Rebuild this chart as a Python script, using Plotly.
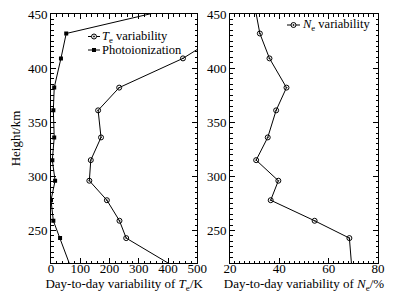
import plotly.graph_objects as go

# Heights (km), bottom to top; end points lie just outside the plotted range
height = [215, 243, 259, 278, 296, 315, 336, 361, 382, 409, 432, 454]
te_var = [431, 257, 234, 191, 131, 136, 171, 161, 233, 451, 587, 650]
photo = [69, 31, 8, 0, 14, 4.5, 11, 8, 11, 34, 52, 400]
ne_var = [69.4, 68.4, 54.3, 36.5, 39.6, 30.6, 35.3, 38.7, 42.9, 36.0, 32.1, 30.3]

te_name = "<i>T</i><sub>e</sub> variability"
photo_name = "Photoionization"
ne_name = "<i>N</i><sub>e</sub> variability"

FONT = "Liberation Serif"
OFF = 8  # page body margin offset
W, H = 393 - OFF, 304 - OFF
ML, MR, MT, MB = 51 - OFF, 15, 14 - OFF, 304 - 263
PW, PH = W - ML - MR, H - MT - MB


def px(xp):
    return (xp - OFF - ML) / PW


def py(yp):
    return 1 - (yp - OFF - MT) / PH


fig = go.Figure()
fig.add_trace(go.Scatter(
    x=te_var, y=height, mode="lines+markers", name=te_name,
    line=dict(color="black", width=1),
    marker=dict(symbol="circle-open-dot", size=5, color="black", line=dict(width=1)),
    xaxis="x", yaxis="y"))
fig.add_trace(go.Scatter(
    x=photo, y=height, mode="lines+markers", name=photo_name,
    line=dict(color="black", width=1),
    marker=dict(symbol="square", size=4, color="black"),
    xaxis="x", yaxis="y"))
fig.add_trace(go.Scatter(
    x=ne_var, y=height, mode="lines+markers", name=ne_name,
    line=dict(color="black", width=1),
    marker=dict(symbol="circle-open-dot", size=5, color="black", line=dict(width=1)),
    xaxis="x2", yaxis="y2"))

axis_common = dict(showline=True, linecolor="black", linewidth=1, mirror="ticks",
                   ticks="inside", ticklen=5, tickcolor="black", showgrid=False,
                   zeroline=False, automargin=False, ticklabeloverflow="allow",
                   tickfont=dict(family=FONT, size=13, color="black"))
minor_common = dict(ticks="inside", ticklen=2.5, tickcolor="black", showgrid=False)

# manual compact legends (sample line + marker + label)
shapes = []
annotations = []


def legend_entry(x0p, x1p, yp, label, kind):
    shapes.append(dict(type="line", xref="paper", yref="paper",
                       x0=px(x0p), x1=px(x1p), y0=py(yp), y1=py(yp),
                       line=dict(color="black", width=1)))
    cx = px((x0p + x1p) / 2)
    cy = py(yp)
    if kind == "circle":
        shapes.append(dict(type="circle", xref="paper", yref="paper",
                           xsizemode="pixel", ysizemode="pixel",
                           xanchor=cx, yanchor=cy, x0=-2.5, x1=2.5, y0=-2.5, y1=2.5,
                           line=dict(color="black", width=1), fillcolor="white"))
        shapes.append(dict(type="circle", xref="paper", yref="paper",
                           xsizemode="pixel", ysizemode="pixel",
                           xanchor=cx, yanchor=cy, x0=-0.7, x1=0.7, y0=-0.7, y1=0.7,
                           line=dict(color="black", width=0.5), fillcolor="black"))
    else:
        shapes.append(dict(type="rect", xref="paper", yref="paper",
                           xsizemode="pixel", ysizemode="pixel",
                           xanchor=cx, yanchor=cy, x0=-2, x1=2, y0=-2, y1=2,
                           line=dict(color="black", width=0), fillcolor="black"))
    annotations.append(dict(text=label, xref="paper", yref="paper",
                            x=px(x1p + 1), y=py(yp), xanchor="left", yanchor="middle",
                            showarrow=False, borderpad=0,
                            font=dict(family=FONT, size=12.5, color="black")))


legend_entry(88, 100, 36.5, te_name, "circle")
legend_entry(88, 100, 50, photo_name, "square")
legend_entry(287, 300, 25, ne_name, "circle")

left_frac = (197.3 - 51) / PW
right_start = (230 - 51) / PW

fig.update_layout(
    width=W, height=H,
    margin=dict(l=ML, r=MR, t=MT, b=MB, autoexpand=False),
    paper_bgcolor="white", plot_bgcolor="white",
    font=dict(family=FONT, size=13, color="black"),
    showlegend=False,
    xaxis=dict(domain=[0, left_frac], range=[0, 500], dtick=100, tick0=0,
               minor=dict(dtick=20, **minor_common), ticklabelstandoff=-7,
               title=dict(text="Day-to-day variability of <i>T</i><sub>e</sub>/K",
                          font=dict(family=FONT, size=13), standoff=4),
               anchor="y", **axis_common),
    yaxis=dict(domain=[0, 1], range=[220, 450], dtick=50, tick0=250,
               minor=dict(dtick=5, **minor_common),
               title=dict(text="Height/km", font=dict(family=FONT, size=13), standoff=7),
               anchor="x", **axis_common),
    xaxis2=dict(domain=[right_start, 1], range=[20, 80], dtick=20, tick0=20,
                minor=dict(dtick=2, **minor_common), ticklabelstandoff=-7,
                title=dict(text="Day-to-day variability of <i>N</i><sub>e</sub>/%",
                           font=dict(family=FONT, size=13), standoff=4),
                anchor="y2", **axis_common),
    yaxis2=dict(domain=[0, 1], range=[220, 450], dtick=50, tick0=250,
                minor=dict(dtick=5, **minor_common),
                anchor="x2", **axis_common),
    shapes=shapes,
    annotations=annotations,
)

fig.write_html("out.html")
